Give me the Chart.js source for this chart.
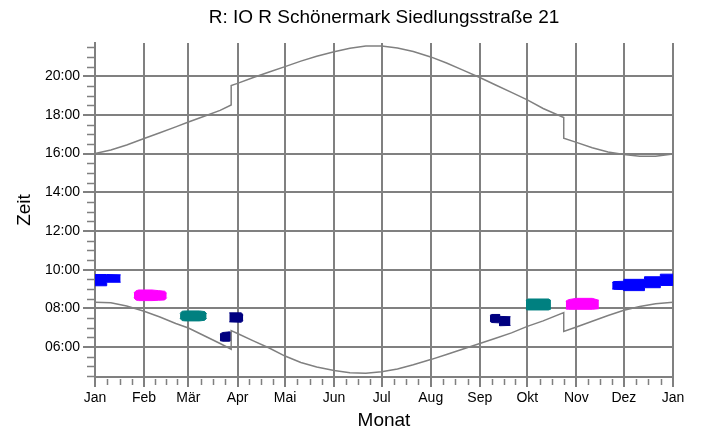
<!DOCTYPE html>
<html>
<head>
<meta charset="utf-8">
<script src="https://cdn.jsdelivr.net/npm/chart.js@4.4.0/dist/chart.umd.min.js"></script>
<style>
  html, body { margin: 0; padding: 0; background: #fff; }
</style>
</head>
<body>
<canvas id="zeit" width="702" height="432"></canvas>
<script>
var monthStarts = [0, 31, 59, 90, 120, 151, 181, 212, 243, 273, 304, 334, 365];
var monthLabels = ['Jan', 'Feb', 'Mär', 'Apr', 'Mai', 'Jun', 'Jul', 'Aug', 'Sep', 'Okt', 'Nov', 'Dez', 'Jan'];
var hourTicks = [6, 8, 10, 12, 14, 16, 18, 20];

// Tag im Jahr, Sonnenaufgang / Sonnenuntergang (Ortszeit, Sprung bei Zeitumstellung)
var curveDays = [0, 10, 20, 31, 41, 51, 59, 69, 79, 86, 86, 90, 100, 110, 120, 130, 140, 151, 161, 171,
  181, 191, 201, 212, 222, 232, 243, 253, 263, 273, 283, 296, 296, 304, 314, 324, 334, 344, 354, 365];
var sunset = ['16:00', '16:11', '16:27', '16:47', '17:05', '17:23', '17:38', '17:56', '18:14', '18:31', '19:31',
  '19:38', '19:56', '20:13', '20:30', '20:47', '21:02', '21:16', '21:27', '21:34', '21:34', '21:28', '21:17',
  '21:00', '20:41', '20:20', '19:56', '19:33', '19:10', '18:47', '18:20', '17:52', '16:48', '16:35', '16:18',
  '16:05', '15:57', '15:52', '15:52', '15:59'];
var sunrise = ['08:19', '08:17', '08:07', '07:51', '07:33', '07:13', '06:59', '06:35', '06:11', '05:53', '06:51',
  '06:42', '06:19', '05:57', '05:32', '05:12', '04:58', '04:47', '04:40', '04:39', '04:43', '04:52', '05:05',
  '05:21', '05:37', '05:53', '06:11', '06:27', '06:44', '07:04', '07:21', '07:47', '06:48', '07:02', '07:20',
  '07:38', '07:54', '08:06', '08:14', '08:19'];

// [Tag, von, bis]
var blueJan = [[0, '09:10', '09:45'], [7.4, '09:10', '09:45'], [7.4, '09:21', '09:45'], [16.2, '09:21', '09:44']];
var magentaFeb = [[24.6, '08:33', '08:48'], [25.8, '08:26', '08:54'], [27.5, '08:24', '08:57'], [36, '08:24', '08:57'],
  [40, '08:25', '08:55'], [44, '08:26', '08:53'], [45.3, '08:33', '08:47']];
var tealMar = [[53.7, '07:29', '07:44'], [55, '07:22', '07:51'], [57, '07:21', '07:52'], [66, '07:21', '07:52'],
  [69.3, '07:23', '07:50'], [70.5, '07:30', '07:43']];
var navyMar = [[78.9, '06:20', '06:40'], [80.5, '06:18', '06:45'], [85, '06:18', '06:47'], [86.3, '06:22', '06:45']];
var navyApr = [[84.8, '07:18', '07:46'], [92.3, '07:17', '07:46'], [93.6, '07:22', '07:40']];
var navySep = [[249.4, '07:20', '07:38'], [250.5, '07:16', '07:41'], [255.5, '07:15', '07:41'], [255.5, '07:06', '07:35'],
  [262.4, '07:07', '07:34']];
var tealOkt = [[272.1, '07:56', '08:25'], [273.5, '07:55', '08:29'], [286.5, '07:55', '08:29'], [287.9, '07:58', '08:24']];
var magentaNov = [[297.3, '07:58', '08:22'], [299, '07:57', '08:27'], [304, '07:57', '08:31'], [314, '07:57', '08:31'],
  [318.2, '07:59', '08:25']];
var blueDez = [[326.6, '09:00', '09:20'], [327.5, '08:59', '09:23'], [334, '08:58', '09:24'], [334, '08:55', '09:30'],
  [347, '08:55', '09:30'], [347, '09:04', '09:38'], [357, '09:04', '09:38'], [357, '09:11', '09:46'], [365, '09:11', '09:46']];

function toH(t) {
  var p = t.split(':');
  return parseInt(p[0], 10) + parseInt(p[1], 10) / 60;
}

function curve(times) {
  return {
    data: curveDays.map(function (d, i) { return { x: d, y: toH(times[i]) }; }),
    borderColor: '#808080', borderWidth: 1.5, pointRadius: 0, tension: 0, fill: false
  };
}

function blob(rows, color) {
  var top = {
    data: rows.map(function (r) { return { x: r[0], y: toH(r[2]) }; }),
    borderColor: color, backgroundColor: color, borderWidth: 1, pointRadius: 0, tension: 0, fill: '+1'
  };
  var bottom = {
    data: rows.map(function (r) { return { x: r[0], y: toH(r[1]) }; }),
    borderColor: color, backgroundColor: color, borderWidth: 1, pointRadius: 0, tension: 0, fill: false
  };
  return [top, bottom];
}

var minorTicks = {
  id: 'minorTicks',
  afterDraw: function (chart) {
    var ctx = chart.ctx, a = chart.chartArea;
    var xs = chart.scales.x, ys = chart.scales.y;
    ctx.save();
    ctx.strokeStyle = '#808080';
    ctx.lineWidth = 1.5;
    ctx.beginPath();
    for (var h = 4.5; h <= ys.max; h += 0.5) {
      if (h % 2 === 0) continue;
      var py = Math.round(ys.getPixelForValue(h)) + 0.5;
      ctx.moveTo(a.left - 8, py);
      ctx.lineTo(a.left - 1, py);
    }
    for (var i = 0; i < monthStarts.length - 1; i++) {
      var s = monthStarts[i], len = monthStarts[i + 1] - s;
      for (var k = 1; k < 4; k++) {
        var px = Math.round(xs.getPixelForValue(s + len * k / 4)) + 0.5;
        ctx.moveTo(px, a.bottom + 2);
        ctx.lineTo(px, a.bottom + 8);
      }
    }
    ctx.stroke();
    ctx.restore();
  }
};

Chart.defaults.font.family = '"Liberation Sans", Arial, sans-serif';
Chart.defaults.color = '#000';

var datasets = [curve(sunset), curve(sunrise)]
  .concat(blob(blueJan, '#0000ff'))
  .concat(blob(magentaFeb, '#ff00ff'))
  .concat(blob(tealMar, '#008080'))
  .concat(blob(navyMar, '#000080'))
  .concat(blob(navyApr, '#000080'))
  .concat(blob(navySep, '#000080'))
  .concat(blob(tealOkt, '#008080'))
  .concat(blob(magentaNov, '#ff00ff'))
  .concat(blob(blueDez, '#0000ff'));

var ctx = document.getElementById('zeit').getContext('2d');
var chart = new Chart(ctx, {
  type: 'line',
  data: { datasets: datasets },
  plugins: [minorTicks],
  options: {
    responsive: false,
    animation: false,
    layout: { padding: { left: 0, right: 29, top: 0, bottom: 0 } },
    plugins: {
      legend: { display: false },
      tooltip: { enabled: false },
      title: {
        display: true,
        text: 'R: IO R Schönermark Siedlungsstraße 21',
        fullSize: false,
        font: { size: 19, weight: 'normal' },
        color: '#000',
        padding: { top: 6, bottom: 14.2 }
      }
    },
    scales: {
      x: {
        type: 'linear',
        min: 0,
        max: 365,
        afterBuildTicks: function (scale) {
          scale.ticks = monthStarts.map(function (v) { return { value: v }; });
        },
        afterFit: function (scale) { scale.height = 55; },
        ticks: {
          autoSkip: false,
          maxRotation: 0,
          padding: 3,
          font: { size: 14 },
          callback: function (value, index) { return monthLabels[index]; }
        },
        grid: { color: '#808080', lineWidth: 2, tickLength: 10 },
        border: { color: '#808080', width: 2 },
        title: { display: true, text: 'Monat', font: { size: 19 }, padding: { top: 0, bottom: 0 } }
      },
      y: {
        type: 'linear',
        min: 4.45,
        max: 21.72,
        afterBuildTicks: function (scale) {
          scale.ticks = hourTicks.map(function (v) { return { value: v }; });
        },
        afterFit: function (scale) { scale.width = 95; },
        ticks: {
          padding: 3,
          font: { size: 14 },
          callback: function (value) { return (value < 10 ? '0' : '') + value + ':00'; }
        },
        grid: { color: '#808080', lineWidth: 2, tickLength: 12 },
        border: { color: '#808080', width: 2 },
        title: { display: true, text: 'Zeit', font: { size: 19 }, padding: { top: 13, bottom: 0 } }
      }
    }
  }
});
</script>
</body>
</html>
